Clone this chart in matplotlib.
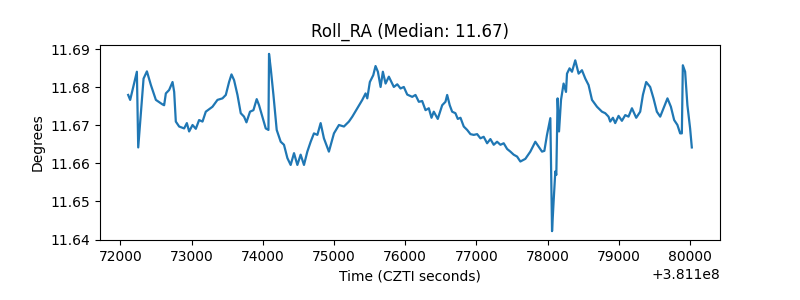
import matplotlib
matplotlib.use('Agg')
import matplotlib.pyplot as plt

# time offsets (added to 3.811e8) and roll RA in degrees
t = [72109, 72137, 72231, 72250, 72325, 72372, 72428, 72498, 72592, 72614,
     72638, 72684, 72732, 72755, 72778, 72825, 72895, 72933, 72965, 73013,
     73059, 73105, 73153, 73199, 73293, 73363, 73433, 73480, 73526, 73560,
     73596, 73644, 73690, 73736, 73770, 73820, 73868, 73914, 73947, 73994,
     74041, 74079, 74087, 74111, 74149, 74195, 74251, 74297, 74345, 74391,
     74438, 74485, 74531, 74578, 74625, 74672, 74718, 74766, 74812, 74858,
     74928, 74999, 75069, 75139, 75209, 75257, 75327, 75397, 75443, 75467,
     75503, 75551, 75583, 75616, 75654, 75686, 75724, 75770, 75840, 75888,
     75934, 75980, 76028, 76098, 76144, 76191, 76238, 76285, 76331, 76369,
     76401, 76457, 76519, 76565, 76589, 76625, 76659, 76705, 76738, 76776,
     76822, 76870, 76916, 76962, 77010, 77056, 77102, 77150, 77196, 77243,
     77290, 77337, 77383, 77431, 77477, 77523, 77571, 77617, 77687, 77757,
     77827, 77874, 77921, 77954, 77991, 78038, 78062, 78084, 78108, 78122,
     78140, 78160, 78188, 78224, 78258, 78272, 78308, 78342, 78388, 78435,
     78482, 78529, 78575, 78623, 78693, 78763, 78809, 78855, 78879, 78917,
     78949, 78996, 79043, 79090, 79136, 79184, 79244, 79300, 79338, 79384,
     79440, 79487, 79534, 79581, 79627, 79683, 79731, 79777, 79823, 79861,
     79885, 79899, 79931, 79963, 80001, 80025]
roll = [11.6780, 11.6767, 11.6841, 11.6642, 11.6823, 11.6842, 11.6806, 11.6767, 11.6755, 11.6753,
        11.6784, 11.6793, 11.6814, 11.6788, 11.6710, 11.6697, 11.6692, 11.6706, 11.6684, 11.6701,
        11.6691, 11.6714, 11.6710, 11.6736, 11.6749, 11.6767, 11.6771, 11.6780, 11.6814, 11.6834,
        11.6819, 11.6780, 11.6732, 11.6723, 11.6708, 11.6736, 11.6740, 11.6769, 11.6753, 11.6723,
        11.6692, 11.6688, 11.6888, 11.6850, 11.6780, 11.6688, 11.6657, 11.6649, 11.6614, 11.6596,
        11.6627, 11.6596, 11.6623, 11.6596, 11.6631, 11.6657, 11.6679, 11.6675, 11.6706, 11.6666,
        11.6631, 11.6679, 11.6701, 11.6697, 11.6710, 11.6723, 11.6745, 11.6767, 11.6784, 11.6771,
        11.6814, 11.6832, 11.6856, 11.6841, 11.6801, 11.6841, 11.6810, 11.6828, 11.6801, 11.6808,
        11.6797, 11.6801, 11.6781, 11.6775, 11.6780, 11.6762, 11.6764, 11.6740, 11.6745, 11.6720,
        11.6736, 11.6717, 11.6753, 11.6762, 11.6780, 11.6753, 11.6736, 11.6732, 11.6717, 11.6720,
        11.6697, 11.6688, 11.6677, 11.6675, 11.6677, 11.6666, 11.6670, 11.6653, 11.6664, 11.6649,
        11.6657, 11.6649, 11.6653, 11.6638, 11.6631, 11.6623, 11.6618, 11.6605, 11.6612, 11.6631,
        11.6657, 11.6644, 11.6631, 11.6633, 11.6675, 11.6719, 11.6422, 11.6500, 11.6579, 11.6570,
        11.6771, 11.6684, 11.6767, 11.6810, 11.6788, 11.6836, 11.6850, 11.6841, 11.6871, 11.6836,
        11.6845, 11.6823, 11.6806, 11.6767, 11.6749, 11.6736, 11.6732, 11.6723, 11.6710, 11.6720,
        11.6706, 11.6725, 11.6712, 11.6727, 11.6723, 11.6745, 11.6720, 11.6736, 11.6780, 11.6814,
        11.6801, 11.6771, 11.6736, 11.6723, 11.6745, 11.6771, 11.6749, 11.6714, 11.6701, 11.6679,
        11.6679, 11.6858, 11.6841, 11.6753, 11.6692, 11.6642]

offset = 3.811e8
times = [offset + v for v in t]

fig = plt.figure(figsize=(8, 3), dpi=100)
ax = fig.add_subplot(1, 1, 1)
fig.subplots_adjust(left=0.125, right=0.9, bottom=0.2, top=0.85)

ax.plot(times, roll, color='#1f77b4', linewidth=1.6)
ax.set_title('Roll_RA (Median: 11.67)')
ax.set_xlabel('Time (CZTI seconds)')
ax.set_ylabel('Degrees')

fig.savefig('out.png', dpi=100)
